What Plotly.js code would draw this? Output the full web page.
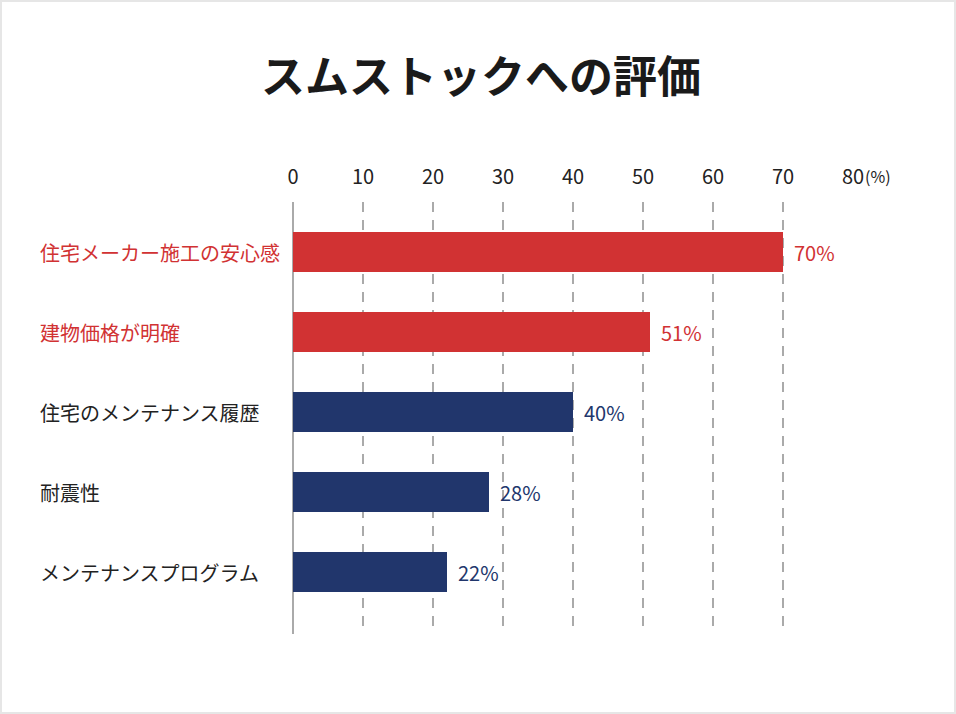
<!DOCTYPE html>
<html>
<head>
<meta charset="utf-8">
<script src="https://cdn.plot.ly/plotly-3.0.1.min.js"></script>
<style>
html,body{margin:0;padding:0;background:#fff;}
#chart{width:956px;height:714px;}
</style>
</head>
<body>
<div id="chart"></div>
<script>
const categories = ["住宅メーカー施工の安心感", "建物価格が明確", "住宅のメンテナンス履歴", "耐震性", "メンテナンスプログラム"];
const values = [70, 51, 40, 28, 22];
const barColors = ["#d13233", "#d13233", "#21366c", "#21366c", "#21366c"];
const labelColors = ["#d13233", "#d13233", "#222222", "#222222", "#222222"];
const tickVals = [0, 10, 20, 30, 40, 50, 60, 70, 80];
const titleText = "スムストックへの評価";
const unitText = "(%)";

const FONT = "'Noto Sans CJK JP', 'Noto Sans', sans-serif";
const W = 956, H = 714;
const L = 293, R = 853, T = 202, B = 634;
const pw = R - L, ph = B - T;
const px = p => (p - L) / pw;
const py = p => (B - p) / ph;

const annotations = [];
categories.forEach((c, i) => {
  annotations.push({
    xref: 'paper', yref: 'y', x: px(38), y: c, xanchor: 'left', yanchor: 'middle',
    text: c, showarrow: false, font: {family: FONT, size: 20, color: labelColors[i]}
  });
  annotations.push({
    xref: 'x', yref: 'y', x: values[i], y: c, xanchor: 'left', yanchor: 'middle', xshift: 9,
    text: values[i] + '%', showarrow: false, font: {family: FONT, size: 20, color: barColors[i]}
  });
});
annotations.push({
  xref: 'x', yref: 'paper', x: 80, y: py(176), xanchor: 'left', yanchor: 'middle', xshift: 10,
  text: unitText, showarrow: false, font: {family: FONT, size: 16, color: '#222'}
});

const data = [{
  type: 'bar', orientation: 'h',
  y: categories, x: values,
  marker: {color: barColors},
  width: 0.5,
  hoverinfo: 'skip'
}];

const layout = {
  width: W, height: H,
  margin: {l: L, r: W - R, t: T, b: H - B, pad: 0},
  paper_bgcolor: '#fff', plot_bgcolor: '#fff',
  showlegend: false,
  title: {text: titleText, font: {family: FONT, size: 44, color: '#1a1a1a', weight: 'bold'},
          x: 481 / W, xref: 'container', xanchor: 'center', y: 1 - 78 / H, yref: 'container', yanchor: 'middle'},
  xaxis: {
    side: 'top', range: [0, 80], tickvals: tickVals, ticks: '',
    tickfont: {family: FONT, size: 20, color: '#222'},
    showgrid: true, gridcolor: '#aaaaaa', gridwidth: 2, griddash: '10px,8px',
    zeroline: true, zerolinecolor: '#aaaaaa', zerolinewidth: 2,
    showline: false, fixedrange: true, ticklabelstandoff: 13
  },
  yaxis: {
    type: 'category', range: [4.775, -0.625],
    showticklabels: false, ticks: '', showgrid: false, zeroline: false, showline: false,
    fixedrange: true
  },
  annotations: annotations,
  shapes: [{
    type: 'rect', xref: 'paper', yref: 'paper',
    x0: px(1), x1: px(955), y0: py(713), y1: py(1),
    line: {color: '#e6e6e6', width: 2}, fillcolor: 'rgba(0,0,0,0)', layer: 'below'
  }]
};

Plotly.newPlot('chart', data, layout, {displayModeBar: false, staticPlot: true});
</script>
</body>
</html>
